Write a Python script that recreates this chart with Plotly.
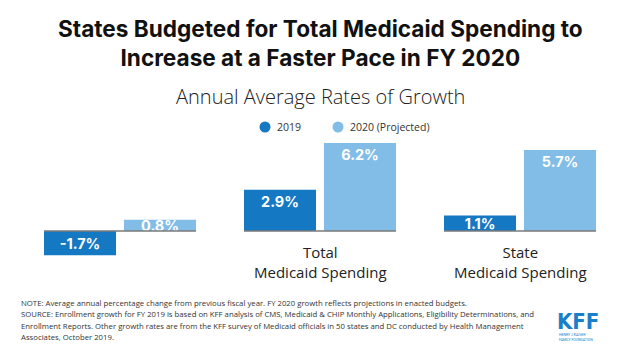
import plotly.graph_objects as go

categories = ["Medicaid Enrollment", "Total<br>Medicaid Spending", "State<br>Medicaid Spending"]
series_names = ["2019", "2020 (Projected)"]
values_2019 = [-1.7, 2.9, 1.1]
values_2020 = [0.8, 6.2, 5.7]
labels_2019 = ["-1.7%", "2.9%", "1.1%"]
labels_2020 = ["0.8%", "6.2%", "5.7%"]
note_lines = [
    "NOTE: Average annual percentage change from previous fiscal year. FY 2020 growth reflects projections in enacted budgets.",
    "SOURCE: Enrollment growth for FY 2019 is based on KFF analysis of CMS, Medicaid &amp; CHIP Monthly Applications, Eligibility Determinations, and",
    "Enrollment Reports. Other growth rates are from the KFF survey of Medicaid officials in 50 states and DC conducted by Health Management",
    "Associates, October 2019.",
]

dark = "#1578c2"
light = "#82bde8"
xs = [0, 1, 2]

W, H = 640, 358
def px(x):
    return x / W
def py(y):
    return 1 - y / H

fig = go.Figure()
for name, vals, labs, col in [(series_names[0], values_2019, labels_2019, dark),
                              (series_names[1], values_2020, labels_2020, light)]:
    # tall bars: label near top; short bars: label centred
    for anchor, keep in [("end", lambda v: abs(v) >= 2), ("middle", lambda v: abs(v) < 2)]:
        yv = [v if keep(v) else None for v in vals]
        tv = [t if keep(v) else "" for v, t in zip(vals, labs)]
        fig.add_trace(go.Bar(
            x=xs, y=yv, text=tv, name=name, marker_color=col, marker_line_width=0,
            offsetgroup=name, legendgroup=name,
            textposition="inside", insidetextanchor=anchor, constraintext="none",
            textfont=dict(family="Inter", size=14.5, color="white", weight="bold"),
            showlegend=False, cliponaxis=False, hoverinfo="skip",
        ))

for i in xs:
    fig.add_shape(type="line", xref="x", yref="y", x0=i - 0.38, x1=i + 0.38, y0=0, y1=0,
                  line=dict(color="#7a7a7a", width=1.5))

label_y = [-2.85, -2.15, -2.15]
for i, (c, yy) in enumerate(zip(categories, label_y)):
    fig.add_annotation(x=i, y=yy, xref="x", yref="y", text=c, showarrow=False,
                       font=dict(family="Open Sans", size=15, color="#222"),
                       yanchor="middle", align="center")

# legend (circle markers + labels)
leg_x = [265, 338]
for xc, name, col in zip(leg_x, series_names, [dark, light]):
    fig.add_shape(type="circle", xref="paper", yref="paper",
                  x0=px(xc - 5.5), x1=px(xc + 5.5), y0=py(127 + 5.5), y1=py(127 - 5.5),
                  fillcolor=col, line=dict(width=0))
    fig.add_annotation(x=px(xc + 10), y=py(127), xref="paper", yref="paper", showarrow=False,
                       text=name, font=dict(family="Open Sans", size=10.5, color="#333"),
                       xanchor="left", yanchor="middle")

fig.add_annotation(x=0.5, y=py(43), xref="paper", yref="paper", showarrow=False,
                   text="<b>States Budgeted for Total Medicaid Spending to<br>Increase at a Faster Pace in FY 2020</b>",
                   font=dict(family="Inter", size=22.6, color="#111"), yanchor="middle", align="center")
fig.add_annotation(x=0.5, y=py(97), xref="paper", yref="paper", showarrow=False,
                   text="Annual Average Rates of Growth",
                   font=dict(family="Open Sans", size=20, color="#222", weight=300), yanchor="middle")

for k, line in enumerate(note_lines):
    fig.add_annotation(x=px(19), y=py(302.5 + 11.5 * k), xref="paper", yref="paper", showarrow=False,
                       text=line, font=dict(family="Open Sans", size=7.75, color="#333"),
                       xanchor="left", yanchor="middle", align="left")

fig.add_annotation(x=px(555), y=py(321), xref="paper", yref="paper", showarrow=False,
                   text="<b>KFF</b>", font=dict(family="DejaVu Sans Condensed", size=22, color="#1a7fc9"),
                   xanchor="left", yanchor="middle")
fig.add_annotation(x=px(557), y=py(337), xref="paper", yref="paper", showarrow=False,
                   text="HENRY J KAISER<br>FAMILY FOUNDATION", font=dict(family="Roboto", size=3.5, color="#1a7fc9"),
                   xanchor="left", yanchor="middle", align="left")

fig.update_layout(
    width=W, height=H,
    margin=dict(l=0, r=0, t=0, b=0),
    paper_bgcolor="white", plot_bgcolor="white",
    barmode="group", bargap=0.2, bargroupgap=0.1,
    uniformtext=dict(minsize=14.5, mode="show"),
    showlegend=False, hovermode=False,
    xaxis=dict(range=[-0.5, 2.5], visible=False, fixedrange=True, domain=[px(20), px(620)]),
    yaxis=dict(range=[-2.5, 7], visible=False, fixedrange=True, zeroline=False,
               domain=[py(266.5), py(131.6)]),
)

fig.write_html("out.html", post_script="document.body.style.margin='0';",
               config={"displayModeBar": False})
